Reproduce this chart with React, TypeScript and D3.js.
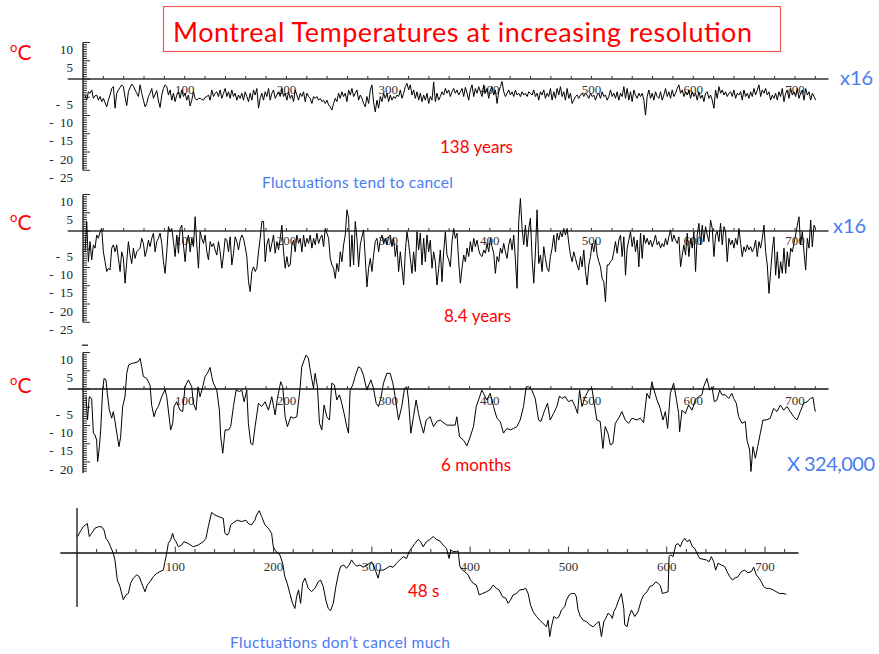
import React from 'react';
import * as d3 from 'd3';

// ---------------- DATA ----------------
// Panel 1: 138 years resolution, uniform samples starting at t=2, step 1.64
const years138Start = 2;
const years138Step = 1.64;
const years138 = [
  -4.4,-5.8,-3.5,-3.9,-3.0,-5.3,-4.6,-4.4,-5.8,-4.8,
  -6.2,-5.3,-6.5,-7.6,-5.8,-4.4,-2.6,-2.1,-8.0,-3.9,
  -3.0,-2.3,-1.6,-2.1,-5.0,-7.3,-3.5,-2.4,-1.4,-2.0,
  -3.0,-3.9,-4.8,-1.6,-3.9,-5.8,-7.6,-6.7,-4.8,-3.9,
  -2.6,-5.3,-4.2,-3.2,-6.0,-7.8,-4.4,-2.6,-1.6,-2.1,
  -4.4,-3.0,-5.8,-3.9,-6.2,-4.4,-3.5,-5.3,-3.0,-4.8,
  -3.9,-5.8,-4.4,-7.4,-5.8,-3.5,-5.3,-5.8,-5.3,-5.3,
  -5.6,-5.8,-5.0,-4.8,-4.4,-5.8,-3.0,-4.8,-3.9,-3.5,
  -4.8,-3.0,-5.3,-3.9,-2.6,-4.8,-3.5,-5.3,-3.0,-4.8,
  -3.9,-5.8,-4.4,-5.3,-3.9,-5.8,-3.5,-4.8,-6.2,-3.9,
  -5.8,-3.0,-4.4,-2.6,-8.0,-5.3,-3.9,-5.8,-3.5,-4.8,
  -2.6,-5.8,-3.9,-3.0,-5.3,-4.4,-3.5,-4.8,-2.6,-4.8,
  -3.9,-5.8,-3.5,-5.3,-4.4,-6.2,-3.0,-4.4,-5.8,-3.9,
  -4.8,-3.5,-6.2,-3.9,-4.8,-5.3,-6.7,-4.8,-5.3,-4.8,
  -5.8,-5.3,-6.2,-5.8,-6.7,-5.8,-7.1,-7.6,-8.5,-6.7,
  -5.3,-6.2,-3.9,-5.3,-3.5,-4.8,-3.9,-6.2,-3.0,-4.4,
  -2.6,-4.8,-3.9,-3.0,-5.8,-4.4,-5.3,-6.7,-7.6,-4.8,
  -6.7,-3.0,-1.6,-6.5,-9.0,-5.8,-8.0,-4.8,-6.2,-3.9,
  -5.3,-3.9,-6.2,-4.4,-5.8,-4.8,-5.3,-4.4,-4.8,-3.0,
  -5.3,-3.9,-2.1,-1.2,-3.0,-1.6,-4.4,-3.0,-5.3,-3.5,
  -5.8,-3.9,-6.2,-4.4,-5.8,-3.9,-6.7,-4.8,-5.8,-0.8,
  -6.2,-3.9,-5.8,-4.8,
  -3.5,-4.4,-2.6,-3.9,-3.0,-4.8,-3.5,-2.6,-3.9,-3.0,
  -4.4,-3.5,-2.6,-4.8,-2.3,-3.9,-5.8,-3.0,-1.6,-4.8,
  -2.6,-3.9,-2.1,-3.5,-4.8,-1.6,-3.9,-2.6,-5.3,-3.0,
  -2.1,-4.4,-3.0,-6.7,-3.5,-2.1,-0.7,-3.5,-4.8,-3.9,
  -3.0,-4.4,-3.5,-4.8,-3.0,-4.4,-3.9,-4.8,-3.5,-4.4,
  -3.9,-4.8,-3.5,-3.9,-4.4,-3.0,-4.8,-3.9,-5.8,-3.5,
  -4.4,-3.0,-5.3,-3.9,-4.8,-2.6,-5.8,-3.5,-5.3,-2.6,
  -4.4,-2.1,-4.8,-3.5,-5.8,-2.6,-5.3,-3.9,-6.7,-5.8,
  -4.8,-4.4,-5.3,-4.4,-3.9,-4.8,-3.9,-4.4,-5.3,-3.9,
  -4.8,-4.4,-5.8,-4.4,-3.9,-5.3,-3.5,-4.8,-4.4,-5.8,
  -4.8,-3.0,-4.8,-3.9,-5.3,-3.5,-5.8,-3.9,-4.8,-2.1,
  -5.3,-2.6,-5.8,-3.5,-6.2,-3.0,-4.4,-5.3,-3.9,-4.8,
  -3.9,-5.8,-9.9,-4.8,-3.0,-5.3,-3.9,-5.8,-3.5,-4.8,
  -5.3,-3.5,-5.8,-4.4,-2.6,-4.8,-3.5,-5.3,-3.0,-4.8,
  -3.9,-2.6,-1.6,-3.9,-3.0,-4.8,-3.5,-4.4,-3.0,-5.3,
  -3.5,-4.8,-3.9,-5.8,-3.5,-5.3,-4.4,-6.2,-3.9,-3.5,
  -5.3,-4.4,-5.8,-8.0,-3.0,-5.3,-2.1,-3.9,-3.0,-4.4,
  -3.5,-4.8,-3.9,-3.5,-4.8,-3.0,-5.3,-3.9,-4.4,-3.5,
  -5.8,-3.0,-4.8,-3.9,-5.3,-3.5,-4.8,-2.6,-4.4,-3.0,
  -1.6,-4.8,-3.0,-3.9,-2.6,-4.4,-3.5,-5.8,-4.4,-5.3,
  -3.9,-5.8,-3.5,-4.8,-2.6,-6.2,-3.9,-3.0,-5.3,-2.6,
  -4.4,-3.5,-4.8,-2.6,-5.3,-3.9,-3.0,-5.8,-2.6,-4.4,
  -3.5,-5.8,-3.9,-4.8,-5.8,
];

// Panel 2: 8.4 years resolution, same sampling
const years8Start = 2;
const years8Step = 1.64;
const years8 = [
  -5.7,2.6,-8.4,-2.9,-7.9,-3.8,-4.7,-1.1,-2.0,-0.2,
  0.7,-5.7,-8.4,-11.1,-10.2,-10.7,-4.7,-3.8,-5.7,-3.8,
  -7.5,-11.1,-5.7,-7.5,-14.3,-8.4,-2.9,-6.6,-8.9,-4.7,
  -7.5,-5.7,-5.2,-4.7,-2.0,-3.4,-7.0,-5.2,-2.5,-4.3,
  -2.0,-0.6,-5.7,-2.9,-2.0,-0.6,-3.4,-8.4,-11.6,-5.7,
  1.2,-0.2,0.7,-2.9,-7.0,-1.1,-6.1,0.7,1.6,-3.8,
  -8.4,-2.9,-1.1,-5.7,-2.0,-4.3,3.9,-3.8,-10.2,-0.2,
  -2.0,-3.4,-1.1,-5.7,-7.9,-2.9,-4.3,-3.4,-5.2,-6.6,
  -2.9,-5.7,-10.2,-6.6,-2.0,-2.5,-5.7,-1.6,-9.3,-6.1,
  -1.6,-2.9,-5.2,-2.5,-1.1,-2.0,-4.3,-7.0,-13.9,-16.6,
  -11.1,-9.8,-11.1,-10.2,-5.7,-2.0,2.6,2.6,-8.4,-3.8,
  -2.0,-5.7,-3.4,-1.1,-6.1,-2.9,-5.2,-2.0,1.6,-5.7,
  -10.2,-7.0,-9.8,-9.3,-3.8,-2.5,-5.7,-1.1,-3.4,-2.0,
  -5.7,-1.1,-4.3,-2.0,-3.4,-1.1,-4.7,-2.0,-3.8,-0.6,
  -3.4,-2.0,-1.1,-4.3,0.7,-0.6,-2.0,-7.5,-9.3,-10.2,
  -13.0,-8.9,-11.1,-5.7,-8.4,-3.8,-1.1,5.8,3.5,-9.8,
  -1.1,-9.3,2.6,-2.0,-9.8,-3.8,-1.6,0.3,-7.5,-15.3,
  -10.2,-7.5,-11.1,-6.6,-2.9,-2.0,-5.7,-2.5,-1.1,-3.4,
  -2.0,-3.8,-1.6,-1.1,-4.3,-2.0,-7.0,-3.8,-11.1,-5.7,
  -10.2,-14.8,-5.7,-0.2,-3.4,-7.5,-11.6,-5.7,-11.1,-0.2,
  -5.2,-0.6,-9.3,-2.0,-8.4,-1.1,-5.7,-2.5,-10.2,-5.7,
  -8.4,-14.8,-10.2,-5.2,
  -13.9,-5.7,-0.2,-6.6,-7.9,-9.8,-2.9,0.7,-2.0,-0.6,
  -8.4,-14.3,-10.2,-6.6,-8.4,-4.7,-7.0,-2.9,-5.7,-2.0,
  -4.3,-2.5,-5.2,-6.6,-7.0,-5.2,-6.1,-3.4,-5.7,-2.0,
  -4.3,-6.1,-11.6,-7.0,-8.4,-4.7,-6.1,-3.4,-5.7,-7.5,
  -3.8,-2.0,-5.2,-1.1,-7.9,-15.7,2.6,8.9,0.7,-3.8,
  1.6,-4.3,0.7,3.5,-7.5,-14.3,-5.7,5.8,-8.9,-6.6,
  -11.1,-4.3,-7.5,-10.2,-11.1,-7.0,-4.7,-1.1,-5.7,-0.6,
  -2.5,-0.2,-1.6,0.7,-1.1,0.7,-3.4,-6.6,-8.4,-5.7,
  -7.5,-9.3,-10.7,-7.0,-9.8,-5.2,-11.1,-14.8,-9.3,-7.0,
  -3.4,-5.7,-2.5,-6.6,-8.4,-9.8,-13.0,-13.9,-19.4,-9.3,
  -9.3,-8.4,-7.9,-5.7,-2.9,-6.1,-2.5,-1.1,-7.0,-1.6,
  -12.1,-4.7,-2.5,-0.2,-4.3,-1.6,-5.7,-2.5,-9.8,-0.6,
  -7.5,-1.1,-3.4,-2.0,-3.8,-2.5,-4.3,-2.9,-1.1,-3.8,
  -2.9,-4.7,-3.4,-4.3,-2.0,-3.8,-1.6,0.3,-2.9,-1.1,
  -2.5,-3.4,-1.6,-9.8,-6.6,-3.8,-6.6,-0.6,-7.0,-2.0,
  -4.7,-0.2,-11.1,-1.1,2.1,-3.8,1.6,-2.9,1.2,-1.1,
  -2.9,3.0,0.7,-7.0,-1.1,-0.2,-2.9,2.1,-3.8,1.2,
  -0.2,-8.4,-2.0,-3.8,-2.5,-4.7,-2.0,-3.8,0.7,-3.4,
  -7.0,-4.3,-5.7,-3.8,-5.2,-4.3,-5.7,-4.7,-2.5,-7.0,
  -2.9,-4.7,-2.0,1.6,-5.7,-9.3,-17.1,-11.1,-5.2,-1.6,
  -12.1,-5.7,-13.0,-8.4,-11.6,-4.7,-11.6,-5.7,-9.8,-4.7,
  -5.7,-3.4,-1.1,1.6,3.9,-3.8,-0.2,-5.7,-10.7,-2.0,
  -4.7,3.0,-4.3,1.6,0.7,
];

// Panel 3: 6 months resolution, [t, temperature]
const months6: [number, number][] = [
  [3.0,-2.1],[4.4,-8.5],[6.2,-2.1],[8.5,-2.6],[10.2,-12.1],[11.8,-12.6],[13.4,-14.0],[14.4,-19.9],
  [16.1,-15.8],[17.4,-11.2],[19.3,-0.3],[20.7,2.9],[22.6,2.5],[23.9,-1.2],[25.9,-5.8],[28.2,-8.0],
  [29.8,-6.2],[31.5,-8.9],[33.8,-13.1],[35.4,-15.8],[37.0,-13.1],[39.0,-4.8],[41.3,-2.1],[43.0,4.3],
  [44.9,6.6],[47.9,7.0],[51.1,7.2],[54.4,7.5],[56.1,8.4],[57.7,6.1],[59.3,3.4],[62.6,2.9],
  [65.9,1.1],[67.5,-4.4],[69.8,-7.6],[71.8,-5.8],[74.1,-4.8],[77.4,-2.1],[80.7,-0.1],[82.3,-2.1],
  [83.9,-5.8],[86.2,-11.2],[88.2,-9.4],[89.5,-4.8],[92.1,-3.5],[95.4,-5.8],[98.0,-6.2],[100.3,0.6],
  [103.6,2.5],[106.9,0.6],[108.5,-3.9],[111.1,-5.8],[113.1,0.6],[115.1,-2.1],[117.7,0.6],[120.0,3.4],
  [122.3,4.3],[124.9,5.9],[126.6,3.4],[128.2,1.6],[131.5,-0.3],[134.1,-5.8],[135.4,-13.1],[137.4,-17.6],
  [139.7,-11.2],[143.0,-11.2],[145.2,-10.3],[147.9,-4.8],[150.5,-0.3],[153.8,-0.7],[156.1,-0.3],[158.4,-3.5],
  [161.0,-0.3],[162.6,-9.4],[164.9,-14.9],[166.9,-15.3],[169.2,-10.3],[172.5,-3.9],[175.7,-4.8],[179.0,-3.5],
  [182.3,-5.8],[185.6,-2.1],[188.9,-7.1],[191.1,-2.6],[194.4,2.0],[196.4,0.6],[198.7,-7.6],[201.0,-10.3],
  [204.3,-7.6],[206.9,-8.0],[210.2,-7.6],[213.4,0.2],[215.1,6.1],[217.4,7.9],[219.3,9.3],[221.6,8.4],
  [223.9,4.3],[226.6,0.2],[228.2,4.3],[230.5,0.6],[232.5,-9.4],[234.8,-11.2],[237.0,-4.4],[239.7,-7.6],
  [242.3,-8.5],[244.6,1.6],[247.2,1.1],[249.5,-3.0],[252.1,-1.6],[254.4,-3.9],[256.7,-6.7],[259.3,-10.3],
  [261.0,-12.1],[262.6,-0.3],[265.2,1.1],[267.5,3.4],[270.8,6.1],[273.1,5.7],[275.7,3.8],[279.0,-0.3],
  [283.0,2.5],[285.6,0.2],[288.2,-3.9],[290.5,-4.8],[292.8,-2.6],[295.4,1.6],[298.7,4.3],[302.0,4.3],
  [304.6,1.6],[306.9,-2.1],[310.2,-8.5],[313.4,-4.8],[316.1,0.2],[318.4,0.6],[320.0,-3.0],[322.3,-12.1],
  [324.9,-7.6],[327.5,-3.0],[329.8,-6.7],[332.1,-9.4],[334.8,-12.1],[337.4,-8.5],[341.3,-7.6],[344.6,-10.3],
  [347.9,-8.9],[351.1,-8.5],[357.7,-9.9],[365.9,-9.9],[367.5,-7.6],[370.2,-13.1],[374.1,-14.0],[377.4,-15.6],
  [380.7,-13.1],[383.9,-10.3],[386.6,-4.8],[388.9,-3.0],[392.1,-0.3],[393.8,-1.2],[397.0,-3.0],[400.3,-1.2],
  [403.6,-4.8],[406.9,-8.0],[410.2,-8.9],[413.4,-12.1],[416.7,-10.8],[420.0,-11.2],[423.3,-10.8],[426.6,-10.3],
  [429.8,-8.5],[433.1,-4.8],[435.7,0.6],[438.0,0.6],[441.3,-0.3],[444.6,-2.6],[447.9,-8.5],[450.2,-8.9],
  [453.4,-6.2],[456.7,-3.9],[459.3,-8.5],[462.6,-6.7],[465.9,-4.8],[468.5,-1.9],[470.8,-2.6],[474.1,-2.1],
  [477.4,-3.5],[480.7,-3.0],[483.9,-4.8],[486.2,-6.7],[488.2,-0.3],[490.5,-4.8],[493.8,-2.1],[497.0,-0.3],
  [500.3,0.2],[502.6,-3.9],[505.2,-8.5],[508.5,-8.9],[511.1,-16.3],[513.4,-10.3],[516.1,-12.1],[518.4,-15.3],
  [521.0,-14.9],[523.3,-9.4],[526.6,-8.0],[529.8,-6.2],[533.1,-8.5],[536.4,-9.4],[539.7,-8.0],[544.6,-8.5],
  [547.9,-8.0],[551.1,-9.2],[554.4,-1.2],[557.0,-2.6],[559.3,2.0],[560.9,0.2],[564.3,-3.0],[567.5,-5.3],
  [570.2,-8.5],[572.5,-6.2],[574.8,-10.8],[577.4,-1.2],[580.7,1.6],[583.3,-2.6],[585.6,-6.7],[586.6,-11.7],
  [588.9,-5.8],[592.1,-6.7],[595.4,-4.4],[598.7,-5.8],[602.0,-3.0],[605.2,-2.1],[608.5,-1.6],[610.2,0.6],
  [613.4,2.9],[616.1,-0.3],[618.4,0.6],[620.7,-3.5],[623.3,-3.0],[625.9,-0.3],[628.2,-1.6],[631.5,-1.6],
  [634.8,-2.6],[638.0,-1.2],[639.7,-2.6],[642.3,-3.9],[644.6,-7.6],[647.9,-9.4],[651.1,-8.9],[652.8,-14.0],
  [655.4,-16.7],[656.7,-22.6],[658.7,-15.8],[661.0,-19.0],[663.3,-15.8],[665.9,-12.1],[668.5,-8.5],[671.8,-8.5],
  [675.7,-8.0],[679.0,-5.3],[682.3,-6.2],[685.6,-4.4],[688.9,-5.8],[692.1,-4.8],[695.4,-6.2],[698.7,-7.6],
  [702.0,-8.5],[705.2,-6.2],[708.5,-3.9],[711.8,-3.5],[715.1,-2.6],[717.7,-2.3],[719.0,-4.8],[720.0,-6.2],
];

// Panel 4: 48 s resolution, [t, temperature]
const seconds48: [number, number][] = [
  [0.7,4.5],[3.1,5.8],[6.4,7.2],[10.5,8.1],[12.5,4.5],[14.9,5.4],[18.3,6.8],[21.7,7.2],
  [25.1,7.2],[27.5,6.3],[29.5,4.0],[31.9,3.1],[34.2,1.7],[36.9,-0.1],[38.6,-1.9],[41.0,-7.4],
  [43.7,-9.2],[47.1,-12.8],[49.8,-11.5],[52.2,-11.1],[54.6,-8.3],[57.3,-6.9],[60.7,-6.0],[63.4,-6.5],
  [65.8,-8.3],[69.2,-10.6],[71.5,-8.8],[74.2,-7.9],[77.6,-6.5],[81.0,-5.6],[84.4,-5.1],[87.8,-4.7],
  [89.5,-2.4],[91.2,-0.1],[92.9,2.6],[95.3,3.6],[97.3,5.4],[98.6,4.0],[100.7,3.1],[103.1,1.7],
  [106.4,2.2],[108.8,3.1],[113.2,2.6],[118.3,1.7],[123.4,2.2],[128.5,3.1],[131.2,4.0],[133.6,7.2],
  [136.9,11.1],[140.3,10.4],[143.7,10.0],[148.8,9.5],[150.5,5.4],[152.9,4.9],[154.9,5.8],[156.3,7.7],
  [159.0,8.3],[163.1,9.0],[167.5,8.6],[171.9,9.0],[174.2,8.1],[177.6,7.7],[181.0,9.0],[182.7,10.4],
  [185.4,11.6],[187.8,10.0],[191.2,7.7],[194.6,6.8],[198.0,5.4],[199.7,1.7],[202.4,0.4],[206.4,-0.5],
  [209.2,-2.8],[211.5,-6.5],[213.9,-8.3],[216.6,-11.1],[219.3,-13.8],[221.7,-15.2],[223.4,-12.0],[225.4,-10.1],
  [227.5,-13.8],[229.5,-8.3],[231.9,-6.9],[233.6,-8.3],[235.3,-9.7],[238.6,-10.6],[242.0,-9.7],[245.4,-7.9],
  [247.8,-7.4],[250.5,-9.2],[253.2,-12.9],[255.6,-15.2],[258.0,-15.8],[260.7,-13.8],[263.4,-9.2],[265.8,-6.0],
  [268.1,-3.7],[271.5,-3.3],[274.2,-4.2],[276.9,-3.3],[279.3,-1.9],[281.7,-2.8],[284.4,-3.6],[287.8,-3.3],
  [291.2,-3.9],[294.6,-3.3],[298.0,-2.8],[299.7,-2.4],[301.4,-3.3],[304.1,-5.1],[306.4,-6.9],[308.1,-4.7],
  [311.5,-4.7],[314.9,-4.2],[318.3,-3.6],[321.7,-3.9],[325.1,-2.8],[328.5,-1.9],[331.9,-1.0],[335.3,-1.5],
  [338.0,0.4],[341.4,1.7],[343.7,2.6],[347.1,3.7],[349.5,3.1],[352.2,1.7],[355.6,3.1],[359.0,3.7],
  [362.4,4.5],[365.8,3.7],[369.2,3.3],[372.5,2.2],[375.9,1.3],[378.6,-1.5],[380.3,0.8],[382.7,0.4],
  [386.1,0.4],[387.8,0.6],[389.5,-3.7],[392.2,-4.7],[394.6,-5.1],[398.0,-6.0],[400.3,-7.4],[403.1,-8.3],
  [406.4,-8.8],[409.2,-11.5],[412.5,-11.1],[416.6,-10.6],[420.0,-10.1],[423.4,-8.8],[426.8,-9.7],[429.5,-10.1],
  [432.9,-12.0],[436.3,-12.4],[438.6,-13.8],[441.0,-12.9],[443.7,-11.5],[447.1,-11.1],[450.5,-10.1],[453.9,-10.0],
  [456.6,-9.7],[459.0,-11.1],[461.4,-14.2],[464.1,-16.1],[467.5,-17.4],[470.8,-18.4],[474.2,-19.3],[477.6,-20.2],
  [479.3,-18.4],[481.0,-22.9],[482.7,-20.2],[485.1,-17.4],[487.8,-17.9],[490.5,-17.4],[492.9,-15.6],[496.3,-14.7],
  [498.0,-12.9],[500.7,-11.5],[503.1,-11.1],[506.4,-11.1],[508.1,-12.0],[509.8,-15.6],[512.2,-17.4],[514.9,-18.4],
  [518.3,-18.8],[521.7,-19.7],[525.1,-20.2],[528.5,-19.3],[531.2,-18.8],[533.6,-22.9],[536.0,-18.8],[538.0,-17.9],
  [540.3,-16.5],[542.7,-17.0],[544.7,-17.9],[546.1,-16.1],[548.8,-14.7],[550.5,-13.3],[553.9,-11.1],[556.3,-15.2],
  [557.3,-19.7],[559.7,-20.2],[561.7,-17.4],[564.1,-15.6],[567.5,-17.4],[570.8,-16.1],[574.2,-12.9],[576.6,-11.5],
  [580.0,-10.6],[582.7,-9.2],[586.1,-8.8],[588.8,-7.9],[591.2,-8.3],[593.6,-9.0],[595.6,-11.1],[598.0,-10.9],
  [601.4,-10.6],[602.4,-1.0],[603.7,-0.5],[606.4,-1.0],[609.2,2.2],[611.5,2.6],[613.9,1.7],[615.9,3.1],
  [618.3,4.0],[620.7,3.1],[623.4,3.6],[626.1,1.7],[628.5,1.3],[630.8,-0.1],[633.6,-1.5],[637.0,-1.7],
  [640.3,-1.9],[643.1,-2.4],[645.4,-1.0],[647.8,-2.4],[649.8,-4.7],[652.2,-2.8],[655.6,-3.3],[659.0,-3.7],
  [661.4,-5.1],[664.1,-6.5],[666.8,-7.4],[669.2,-6.9],[672.5,-6.5],[675.9,-5.1],[679.3,-4.7],[682.7,-5.4],
  [686.1,-5.1],[688.5,-3.9],[691.2,-6.0],[693.9,-6.9],[696.3,-7.9],[698.6,-9.2],[701.4,-9.7],[704.7,-9.7],
  [708.1,-10.1],[711.5,-10.6],[714.9,-11.1],[718.3,-11.1],[721.7,-11.3],
];

const xTickLabels = [100, 200, 300, 400, 500, 600, 700];
const yLabels12 = [10, 5, -5, -10, -15, -20, -25];
const yLabels3 = [10, 5, -5, -10, -15, -20];

// ---------------- CHART ----------------
const RED = '#ff0000';
const BLUE = '#4a7cf0';
const SANS = "Lato, 'Noto Sans', sans-serif";
const SERIF = "'Liberation Serif', 'DejaVu Serif', serif";
const PX_PER_UNIT = 3.65;

type PanelProps = {
  data: [number, number][];
  axisY: number;
  xRange: [number, number];
  axisExtent: [number, number];
  yAxisExtent?: [number, number] | null;
  yLabels?: number[];
  axisColor: string;
  axisWidth: number;
  ladder: boolean;
  topTick?: number | null;
  labelDy: number;
  bigTicks?: boolean;
};

function Panel(p: PanelProps) {
  const x = d3.scaleLinear().domain([0, 700]).range(p.xRange);
  const y = d3.scaleLinear().domain([0, 10]).range([p.axisY, p.axisY - 10 * PX_PER_UNIT]);
  const line = d3.line<[number, number]>().x(d => x(d[0])).y(d => y(d[1]));
  const xt = d3.range(20, 721, 20);
  const x0 = x(0);
  const ladderTicks: number[] = [];
  if (p.ladder && p.yAxisExtent) {
    const [top, bot] = p.yAxisExtent;
    for (let v = top; v >= bot - 1e-6; v -= 0.625) ladderTicks.push(v);
  }
  return (
    <g>
      <line x1={x(p.axisExtent[0])} x2={x(p.axisExtent[1])} y1={y(0)} y2={y(0)}
        stroke={p.axisColor} strokeWidth={p.axisWidth} />
      {xt.map(t => (
        <line key={t} x1={x(t)} x2={x(t)} y1={y(0)}
          y2={y(0) - (p.bigTicks ? (t % 100 === 0 ? 6.5 : 4) : 3)}
          stroke="#333" strokeWidth={1} />
      ))}
      {xTickLabels.map(t => (
        <text key={t} x={x(t)} y={y(0) + p.labelDy} textAnchor="middle"
          fontFamily={SERIF} fontSize={13} fill="#333">{t}</text>
      ))}
      {p.yAxisExtent && (
        <line x1={x0} x2={x0} y1={y(p.yAxisExtent[0])} y2={y(p.yAxisExtent[1])}
          stroke="#111" strokeWidth={1.3} />
      )}
      {ladderTicks.map((v, i) => {
        const major = Math.abs(v % 5) < 1e-6 || Math.abs(Math.abs(v % 5) - 5) < 1e-6;
        return (
          <line key={i} x1={x0} x2={x0 + (major ? 7 : 4)} y1={y(v)} y2={y(v)}
            stroke="#111" strokeWidth={0.9} />
        );
      })}
      {p.topTick != null && (
        <line x1={x0 - 1} x2={x0 + 5} y1={y(p.topTick)} y2={y(p.topTick)} stroke="#111" strokeWidth={1.2} />
      )}
      {(p.yLabels || []).map(v => (
        <text key={v} x={73} y={y(v) + 11.5} textAnchor="end"
          fontFamily={SERIF} fontSize={13} fill="#222" xmlSpace="preserve">
          {v < 0 ? `-  ${Math.abs(v)}` : `${v}`}
        </text>
      ))}
      <path d={line(p.data) || ''} fill="none" stroke="#000" strokeWidth={1} strokeLinejoin="round" />
    </g>
  );
}

function Degree({ x, y }: { x: number; y: number }) {
  return (
    <text x={x} y={y} fontFamily={SANS} fill={RED}>
      <tspan fontSize={13} dy={-8}>o</tspan>
      <tspan fontSize={21} dy={8}>C</tspan>
    </text>
  );
}

export default function App() {
  const s1 = years138.map((v, i) => [years138Start + i * years138Step, v] as [number, number]);
  const s2 = years8.map((v, i) => [years8Start + i * years8Step, v] as [number, number]);
  const r123: [number, number] = [83, 795];
  return (
    <svg width={879} height={654} viewBox="0 0 879 654"
      style={{ position: 'absolute', left: 0, top: 0, background: '#fff' }}>
      <rect x={0} y={0} width={879} height={654} fill="#fff" />
      <rect x={163.5} y={6.5} width={617} height={45} fill="none" stroke="#f05a50" strokeWidth={1.2} />
      <text x={173} y={42} fontFamily={SANS} fontSize={27} fill={RED} textLength={579} lengthAdjust="spacing">
        Montreal Temperatures at increasing resolution
      </text>

      <Panel data={s1} axisY={79} xRange={r123} axisExtent={[-15, 733]} yAxisExtent={[10, -25]}
        yLabels={yLabels12} axisColor="#666" axisWidth={1.8} ladder labelDy={15} />
      <Panel data={s2} axisY={231} xRange={r123} axisExtent={[-15, 733]} yAxisExtent={[10, -25]}
        yLabels={yLabels12} axisColor="#666" axisWidth={1.8} ladder labelDy={14} />
      <Panel data={months6} axisY={389} xRange={r123} axisExtent={[-15, 733]} yAxisExtent={[10, -23]}
        yLabels={yLabels3} axisColor="#111" axisWidth={1.3} ladder topTick={12} labelDy={16} />
      <Panel data={seconds48} axisY={553} xRange={[77, 765]} axisExtent={[-17, 734]} yAxisExtent={[12.3, -14.8]}
        axisColor="#111" axisWidth={1.3} ladder={false} labelDy={18} bigTicks />

      <Degree x={10} y={60} />
      <Degree x={10} y={230} />
      <Degree x={10} y={393} />

      <text x={840} y={85} fontFamily={SANS} fontSize={20} fill={BLUE}>x16</text>
      <text x={833} y={233} fontFamily={SANS} fontSize={20} fill={BLUE}>x16</text>
      <text x={787} y={471} fontFamily={SANS} fontSize={20} fill={BLUE} textLength={88}>X 324,000</text>

      <text x={440} y={153} fontFamily={SANS} fontSize={17} fill={RED}>138 years</text>
      <text x={444} y={322} fontFamily={SANS} fontSize={17} fill={RED}>8.4 years</text>
      <text x={441} y={471} fontFamily={SANS} fontSize={17} fill={RED}>6 months</text>
      <text x={408} y={597} fontFamily={SANS} fontSize={17} fill={RED}>48 s</text>

      <text x={262} y={188} fontFamily={SANS} fontSize={15.5} fill={BLUE} textLength={191}>Fluctuations tend to cancel</text>
      <text x={230} y={648} fontFamily={SANS} fontSize={15.5} fill={BLUE} textLength={220}>Fluctuations don’t cancel much</text>
    </svg>
  );
}
